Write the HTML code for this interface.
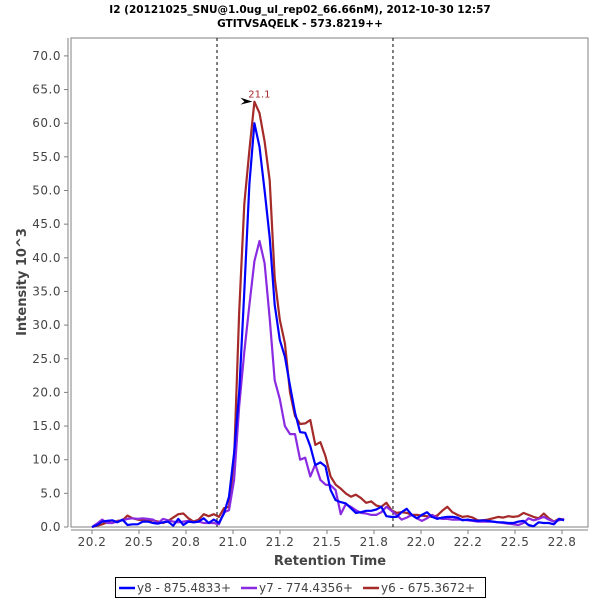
<!DOCTYPE html>
<html><head><meta charset="utf-8"><style>
html,body{margin:0;padding:0;background:#fff;}
svg{display:block;font-family:"DejaVu Sans","Liberation Sans",sans-serif;}
</style></head><body>
<svg id="chart" width="600" height="600" viewBox="0 0 600 600">
<text x="300" y="13" text-anchor="middle" font-size="10.5" font-weight="bold" fill="#000">I2 (20121025_SNU@1.0ug_ul_rep02_66.66nM), 2012-10-30 12:57</text>
<text x="300" y="27" text-anchor="middle" font-size="10.5" font-weight="bold" fill="#000">GTITVSAQELK - 573.8219++</text>
<rect x="71" y="38" width="517" height="489" fill="#fff" stroke="#808080" stroke-width="1"/>
<g id="yaxis"></g>
<g id="xaxis"></g>
<text x="0" y="0" transform="translate(26,282) rotate(-90)" text-anchor="middle" font-size="13" font-weight="bold" fill="#444">Intensity 10^3</text>
<text x="330" y="565" text-anchor="middle" font-size="13" font-weight="bold" fill="#444">Retention Time</text>
<g id="marks"></g>
<g>
<rect x="115.5" y="577.5" width="370" height="20" fill="#fff" stroke="#000" stroke-width="1"/>
<g><line x1="119" y1="588" x2="135" y2="588" stroke="#0000ff" stroke-width="2.5"/><text x="137" y="592" font-size="12" fill="#444">y8 - 875.4833+</text></g>
<g><line x1="241" y1="588" x2="257" y2="588" stroke="#8a2be2" stroke-width="2.5"/><text x="259" y="592" font-size="12" fill="#444">y7 - 774.4356+</text></g>
<g><line x1="363" y1="588" x2="379" y2="588" stroke="#a52a2a" stroke-width="2.5"/><text x="381" y="592" font-size="12" fill="#444">y6 - 675.3672+</text></g>
</g>
</svg>
<script>
const times = [20.250,20.277,20.304,20.331,20.358,20.385,20.412,20.439,20.466,20.493,20.520,20.547,20.574,20.601,20.628,20.655,20.682,20.709,20.736,20.763,20.790,20.817,20.844,20.871,20.898,20.925,20.952,20.979,21.006,21.033,21.060,21.087,21.114,21.141,21.168,21.195,21.222,21.249,21.276,21.303,21.330,21.357,21.384,21.411,21.438,21.465,21.492,21.519,21.546,21.573,21.600,21.627,21.654,21.681,21.708,21.735,21.762,21.789,21.816,21.843,21.870,21.897,21.924,21.951,21.978,22.005,22.032,22.059,22.086,22.113,22.140,22.167,22.194,22.221,22.248,22.275,22.302,22.329,22.356,22.383,22.410,22.437,22.464,22.491,22.518,22.545,22.572,22.599,22.626,22.653,22.680,22.707,22.734,22.761];
const y6 = [0.0,0.2,0.4,0.7,0.6,0.9,1.0,1.7,1.3,1.1,1.0,0.9,1.0,0.8,0.6,0.9,1.4,1.9,2.0,1.3,0.8,1.1,1.9,1.6,1.9,1.5,2.8,3.0,10,32,48,56,63.2,61.5,57.3,51.5,37,30.8,27.3,20,16.5,15.3,15.4,15.9,12.2,12.6,10.5,7.5,6.3,5.7,5.0,4.5,4.8,4.3,3.6,3.8,3.2,3.0,3.6,2.5,2.1,2.2,2.1,1.8,1.8,1.7,1.6,1.5,1.7,2.4,3.0,2.2,1.8,1.5,1.6,1.4,1.0,1.0,1.1,1.3,1.5,1.4,1.6,1.5,1.6,2.1,1.8,1.5,1.3,2.0,1.3,0.8,1.2,1.1];
const y8 = [0.0,0.3,0.8,0.9,1.0,0.7,1.1,0.3,0.4,0.4,0.8,0.8,0.6,0.5,0.7,0.8,0.2,1.2,0.3,0.8,0.7,0.8,1.3,0.6,1.1,0.6,2.0,4.5,11,20,35,51,60.0,56.5,50,43,33,27.8,25.3,21,17,14.1,14,12,9.2,9.6,9.0,5.5,4.0,3.7,3.5,2.8,2.1,2.2,2.4,2.4,2.6,3.0,1.6,1.5,1.5,2.2,2.7,1.8,1.3,1.8,2.2,1.5,1.2,1.4,1.5,1.5,1.4,1.0,1.1,1.0,0.9,1.0,0.9,0.8,0.7,0.7,0.6,0.6,0.8,0.9,0.3,0.1,0.7,0.6,0.6,0.4,1.2,1.0];
const y7 = [0.0,0.5,1.1,0.6,0.6,0.8,1.0,1.2,1.3,1.2,1.3,1.2,1.1,0.6,1.2,1.0,0.8,0.7,0.8,0.9,0.7,0.8,0.6,0.6,0.6,0.4,2.2,2.5,7,18,26,33,39.5,42.5,39.2,31,21.8,19,15,13.8,13.8,10,10.3,7.5,9.3,7,6.3,6.2,5.5,1.9,3.4,3.0,2.5,2.1,2.0,1.8,1.8,2.2,3.0,2.4,1.8,1.1,1.4,1.8,1.3,0.9,1.3,1.8,1.4,1.2,1.2,1.1,1.1,1.1,1.0,0.9,0.8,0.8,0.8,0.8,0.7,0.6,0.5,0.4,0.3,0.6,1.3,1.0,1.2,1.5,1.1,0.8,1.0,1.2];
const yTicks = [0,5,10,15,20,25,30,35,40,45,50,55,60,65,70];
const xTicks = [20.25,20.5,20.75,21.0,21.25,21.5,21.75,22.0,22.25,22.5,22.75];
const xTickLabels = ["20.2","20.5","20.8","21.0","21.2","21.5","21.8","22.0","22.2","22.5","22.8"];
const markers = [20.915,21.851];
const peakTime = 21.114;
const peakValue = 63.2;
const peakLabel = "21.1";

const NS = "http://www.w3.org/2000/svg";
function X(t){ return 70 + (t - 20.133) * 188; }
function Y(v){ return 527 - v * 6.73; }
function mk(tag, attrs, parent){ const e = document.createElementNS(NS, tag); for (const k in attrs) e.setAttribute(k, attrs[k]); parent.appendChild(e); return e; }

const yax = document.getElementById('yaxis');
mk('line',{x1:68,y1:38,x2:68,y2:527,stroke:'#808080','stroke-width':1},yax);
yTicks.forEach(v=>{
  const y = Y(v);
  mk('line',{x1:64,y1:y,x2:68,y2:y,stroke:'#808080'},yax);
  const t = mk('text',{x:61,y:y+4,'text-anchor':'end','font-size':12,fill:'#444','letter-spacing':'0.5'},yax);
  t.textContent = v.toFixed(1);
  
  
});
const xax = document.getElementById('xaxis');
mk('line',{x1:71,y1:530,x2:588,y2:530,stroke:'#808080','stroke-width':1},xax);
xTicks.forEach((v,i)=>{
  const x = X(v);
  mk('line',{x1:x,y1:530,x2:x,y2:534,stroke:'#808080'},xax);
  const t = mk('text',{x:x,y:546,'text-anchor':'middle','font-size':12,fill:'#444','letter-spacing':'0.5'},xax);
  t.textContent = xTickLabels[i];
  
  
});
const marks = document.getElementById('marks');
markers.forEach(m=>{
  const l = mk('line',{x1:X(m),y1:38,x2:X(m),y2:527,stroke:'#000','stroke-width':1,'stroke-dasharray':'3,3'},marks);
  
  
});
function series(vals, color, name){
  const pts = vals.map((v,i)=>X(times[i]).toFixed(1)+','+Y(v).toFixed(1)).join(' ');
  const p = mk('polyline',{points:pts,fill:'none',stroke:color,'stroke-width':2.2,'stroke-linejoin':'round'},marks);
  
  
}
series(y6,'#a52a2a','series-y6');
series(y7,'#8a2be2','series-y7');
series(y8,'#0000ff','series-y8');
const px = X(peakTime), py = Y(peakValue);
const arrow = mk('polygon',{points:(px-2)+','+py+' '+(px-14)+','+(py-4)+' '+(px-10)+','+py+' '+(px-14)+','+(py+3),fill:'#000'},marks);


const pl = mk('text',{x:px+5,y:py-4,'text-anchor':'middle','font-size':10,fill:'#a52a2a'},marks);
pl.textContent = peakLabel;


</script>
</body></html>
